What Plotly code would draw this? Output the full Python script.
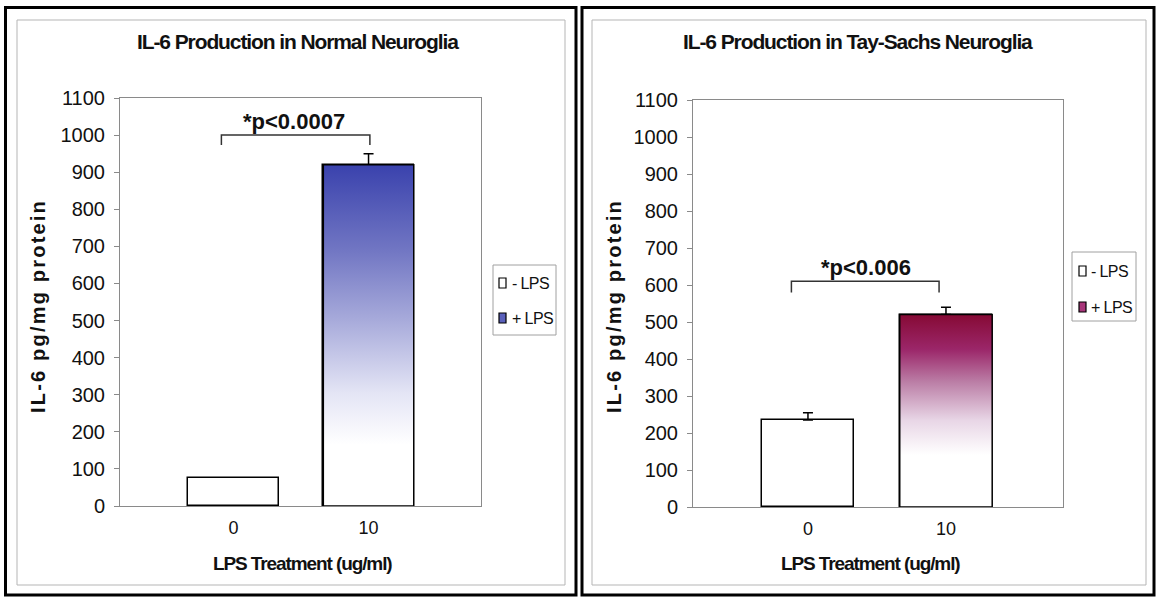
import plotly.graph_objects as go

W, H = 1158, 597

# ---------------- data ----------------
categories = ["0", "10"]
series_names = ["- LPS", "+ LPS"]
normal_values = [75, 920]
normal_err = [0, 30]
tay_values = [235, 520]
tay_err = [20, 20]
y_ticks = list(range(0, 1101, 100))
titles = ["IL-6 Production in Normal Neuroglia", "IL-6 Production in Tay-Sachs Neuroglia"]
pvals = ["*p<0.0007", "*p<0.006"]
y_title = "IL-6 pg/mg protein"
x_title = "LPS Treatment (ug/ml)"

ARIAL = "Liberation Sans, Arial, sans-serif"


def px(x):
    return x / W


def py(y):
    return 1 - y / H


def spaced(t, ls):
    return f'<span style="letter-spacing:{ls}px">{t}</span>'


bar_w = 0.67
xpos = [0, 1]

fig = go.Figure()

panels = [
    dict(vals=normal_values, err=normal_err, xa="x", ya="y",
         scale=[[0, "#ffffff"], [0.18, "#ffffff"], [0.33, "#e4e5f5"], [0.55, "#a6a9da"],
                [0.75, "#7176c3"], [1.0, "#3a42ad"]],
         legcolor="#5a60bb"),
    dict(vals=tay_values, err=tay_err, xa="x2", ya="y2",
         scale=[[0, "#ffffff"], [0.27, "#ffffff"], [0.45, "#e8d6e6"], [0.65, "#bb7ea6"],
                [0.82, "#9b2669"], [1.0, "#860a35"]],
         legcolor="#a8357a"),
]

for p in panels:
    for i in range(2):
        e = p["err"][i]
        fig.add_trace(go.Bar(
            x=[xpos[i]], y=[p["vals"][i]], width=bar_w, name=series_names[i],
            marker=dict(color="white", line=dict(color="black", width=1.5)),
            error_y=dict(type="data", array=[e], arrayminus=[0], symmetric=False,
                         color="black", thickness=1.5, width=5, visible=e > 0),
            xaxis=p["xa"], yaxis=p["ya"], showlegend=False, hoverinfo="skip"))
    v = p["vals"][1]
    x0, x1 = xpos[1] - bar_w / 2, xpos[1] + bar_w / 2
    fig.add_trace(go.Scatter(
        x=[x0, x0, x1, x1, x0], y=[0, v, v, 0, 0], mode="lines",
        fill="toself",
        fillgradient=dict(type="vertical", colorscale=p["scale"], start=0, stop=v),
        line=dict(color="black", width=1.5),
        xaxis=p["xa"], yaxis=p["ya"], showlegend=False, hoverinfo="skip"))

axis_common = dict(showgrid=False, zeroline=False, showline=True, linecolor="#8a8a8a",
                   linewidth=1, mirror=True, automargin=False)

left = dict(x0=120, x1=481, top=98, bot=506, range=[-0.841, 1.833])
right = dict(x0=693, x1=1063, top=100, bot=507, range=[-0.833, 1.848])

xt = dict(tickvals=xpos, ticktext=categories, ticks="", ticklabelstandoff=5,
          tickfont=dict(family=ARIAL, size=18, color="#111"))
yt = dict(range=[0, 1100], tickvals=y_ticks, ticks="outside", ticklen=5, tickcolor="#8a8a8a",
          ticklabelstandoff=5, tickfont=dict(family=ARIAL, size=20, color="#111"))

fig.update_layout(
    template="none",
    width=W, height=H, margin=dict(l=0, r=0, t=0, b=0, pad=0, autoexpand=False),
    paper_bgcolor="white", plot_bgcolor="white", showlegend=False,
    xaxis=dict(domain=[px(left["x0"]), px(left["x1"])], range=left["range"], anchor="y",
               **xt, **axis_common),
    yaxis=dict(domain=[py(left["bot"]), py(left["top"])], anchor="x", **yt, **axis_common),
    xaxis2=dict(domain=[px(right["x0"]), px(right["x1"])], range=right["range"], anchor="y2",
                **xt, **axis_common),
    yaxis2=dict(domain=[py(right["bot"]), py(right["top"])], anchor="x2", **yt, **axis_common),
    bargap=0,
)

shapes = []
annotations = []

for (ox0, ox1), (ix0, ix1) in [((5.5, 576), (17, 565)), ((582, 1154), (592, 1146))]:
    shapes.append(dict(type="rect", xref="paper", yref="paper", x0=px(ox0), x1=px(ox1),
                       y0=py(595), y1=py(7.5), line=dict(color="black", width=3)))
    shapes.append(dict(type="rect", xref="paper", yref="paper", x0=px(ix0), x1=px(ix1),
                       y0=py(585), y1=py(20), line=dict(color="#b5b5b5", width=1)))

for title, cx, ytx, xtx in [(titles[0], 298, 38, 302), (titles[1], 858, 614, 870)]:
    annotations.append(dict(text=spaced(title, -1.1), x=px(cx), y=py(41), xref="paper",
                            yref="paper", showarrow=False, xanchor="center", yanchor="middle",
                            font=dict(family=ARIAL, size=21, color="#111", weight="bold")))
    annotations.append(dict(text=spaced(y_title, 2.2), x=px(ytx), y=py(306), xref="paper",
                            yref="paper", showarrow=False, textangle=-90, xanchor="center",
                            yanchor="middle",
                            font=dict(family=ARIAL, size=20, color="#111", weight="bold")))
    annotations.append(dict(text=spaced(x_title, -1.1), x=px(xtx), y=py(563), xref="paper",
                            yref="paper", showarrow=False, xanchor="center", yanchor="middle",
                            font=dict(family=ARIAL, size=19, color="#111", weight="bold")))

brackets = [("x", "y", -0.09, 1.01, 1000, 27, 0.45), ("x2", "y2", -0.12, 0.95, 610, 30, 0.42)]
for (xr, yr, bx0, bx1, by, drop, tx), txt in zip(brackets, pvals):
    path = f"M {bx0} {by - drop} L {bx0} {by} L {bx1} {by} L {bx1} {by - drop}"
    shapes.append(dict(type="path", xref=xr, yref=yr, path=path,
                       line=dict(color="#333", width=1.5)))
    annotations.append(dict(text=txt, x=tx, y=by + 38, xref=xr, yref=yr, showarrow=False,
                            xanchor="center", yanchor="middle",
                            font=dict(family=ARIAL, size=22, color="#111", weight="bold")))

legends = [
    dict(box=(493, 556, 265, 335), rows=(283, 318), sx=(499, 506), tx=510, col=panels[0]["legcolor"]),
    dict(box=(1072, 1136, 252, 321), rows=(271, 307), sx=(1079, 1086), tx=1089, col=panels[1]["legcolor"]),
]
for lg in legends:
    bx0, bx1, by0, by1 = lg["box"]
    shapes.append(dict(type="rect", xref="paper", yref="paper", x0=px(bx0), x1=px(bx1),
                       y0=py(by1), y1=py(by0), line=dict(color="#a0a0a0", width=1)))
    for name, ry, fc in zip(series_names, lg["rows"], ["white", lg["col"]]):
        shapes.append(dict(type="rect", xref="paper", yref="paper", x0=px(lg["sx"][0]),
                           x1=px(lg["sx"][1]), y0=py(ry + 5), y1=py(ry - 5),
                           fillcolor=fc, line=dict(color="black", width=1.2)))
        annotations.append(dict(text=spaced(name, -0.6), x=px(lg["tx"]), y=py(ry), xref="paper",
                                yref="paper", showarrow=False, xanchor="left", yanchor="middle",
                                font=dict(family=ARIAL, size=16, color="#111")))

fig.update_layout(shapes=shapes, annotations=annotations)
fig.write_html("out.html")
